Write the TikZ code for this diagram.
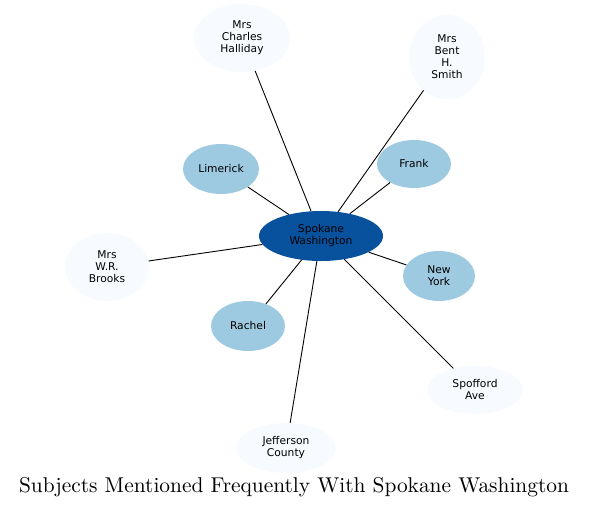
\documentclass[tikz,border=0pt]{standalone}
\usepackage{fontspec}
\newfontfamily\nodefont{DejaVu Sans}
\newfontfamily\titlefont{lmroman10-regular.otf}
\usepackage{xcolor}
\usetikzlibrary{shapes.geometric}
\definecolor{centercolor}{RGB}{8,81,156}
\definecolor{midcolor}{RGB}{158,202,225}
\definecolor{palecolor}{RGB}{247,251,255}

\begin{document}
\begin{tikzpicture}[x=1pt,y=-1pt]
  \tikzset{
    subject/.style={
      ellipse,
      inner sep=0pt,
      align=center,
      font=\nodefont\fontsize{10.7}{12}\selectfont
    },
    hub/.style={
      subject,
      fill=centercolor,
      minimum width=124pt,
      minimum height=50pt
    },
    near/.style={
      subject,
      fill=midcolor
    },
    far/.style={
      subject,
      fill=palecolor
    },
    link/.style={
      draw,
      line width=0.9pt
    }
  }
  \useasboundingbox (0,0) rectangle (589,509);

  % Draw the subject nodes
  \node[hub] at (321,236) (spokane) {Spokane\\Washington};
  \node[far, minimum width=96pt, minimum height=68pt] at (242,38) (halliday) {Mrs\\Charles\\Halliday};
  \node[far, minimum width=76pt, minimum height=84pt] at (447,57) (smith) {Mrs\\Bent\\H.\\Smith};
  \node[near, minimum width=76pt, minimum height=50pt] at (221,169) (limerick) {Limerick};
  \node[near, minimum width=74pt, minimum height=48pt] at (414,164) (frank) {Frank};
  \node[far, minimum width=84pt, minimum height=68pt] at (107,267) (brooks) {Mrs\\W.R.\\Brooks};
  \node[near, minimum width=72pt, minimum height=50pt] at (439,276) (newyork) {New\\York};
  \node[near, minimum width=74pt, minimum height=50pt] at (248,326) (rachel) {Rachel};
  \node[far, minimum width=96pt, minimum height=48pt] at (475,390) (spofford) {Spofford\\Ave};
  \node[far, minimum width=100pt, minimum height=50pt] at (286,448) (jefferson) {Jefferson\\County};

  % Draw the links from the hub
  \foreach \other in {halliday,smith,limerick,frank,brooks,newyork,rachel,spofford,jefferson}
    \draw[link] (spokane) -- (\other);

  % Title
  \node at (294,487) (title) {\titlefont\fontsize{21.4}{25}\selectfont Subjects Mentioned Frequently With Spokane Washington};
\end{tikzpicture}
\end{document}
